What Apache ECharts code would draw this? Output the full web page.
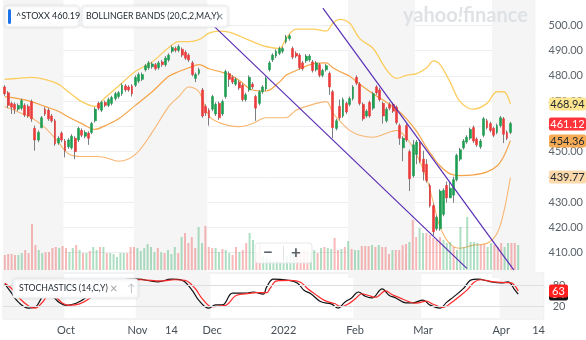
<!DOCTYPE html>
<html><head><meta charset="utf-8">
<script src="https://cdn.jsdelivr.net/npm/echarts@6/dist/echarts.min.js"></script>
<style>html,body{margin:0;padding:0;background:#fff}#c{width:586px;height:340px}</style>
</head><body><div id="c"></div>
<script>
// ---------- data ----------
const startDate = '2021-09-07', endDate = '2022-04-08';
const holidays = ['2021-12-24', '2021-12-31'];
const futureDays = ['2022-04-09','2022-04-10','2022-04-11','2022-04-12','2022-04-13','2022-04-14','2022-04-15'];
const tickLabels = {'2021-10-01':'Oct','2021-11-01':'Nov','2021-11-15':'14','2021-12-01':'Dec','2022-01-03':'2022','2022-02-01':'Feb','2022-03-01':'Mar','2022-04-01':'Apr','2022-04-14':'14'};
const shadedMonths = ['2021-09','2021-11','2022-02','2022-04'];

const open = [475.6,473.3,469.1,468.7,466.8,467.2,468.3,467.9,469.8,459.2,
454.6,459.5,466.8,466.4,464.1,462.2,453.4,457.3,454.2,451.9,
451.5,455.3,454.6,458.4,456.1,457.3,457.6,462.2,469.1,466.4,
469.5,468.3,469.1,471.0,471.8,472.9,476.0,475.6,476.0,476.3,
477.9,478.6,482.4,483.2,483.6,484.4,483.2,485.5,484.4,486.3,
489.7,490.8,490.1,490.5,489.3,488.2,485.1,479.0,480.9,474.4,
467.9,466.4,466.8,464.9,469.1,464.9,471.8,480.9,479.4,476.7,
477.5,476.3,470.6,474.4,476.7,471.8,469.1,473.7,474.8,482.4,
486.3,487.8,488.9,489.7,493.5,494.7,490.8,488.9,488.2,485.1,
485.9,486.3,485.5,482.4,484.4,480.2,482.4,480.9,473.7,459.2,
467.9,464.1,469.1,468.7,471.0,479.4,476.7,468.7,464.1,469.5,
467.2,475.6,474.4,469.1,462.2,468.7,468.7,467.6,460.3,451.5,
460.3,450.0,440.5,448.9,453.4,447.0,445.0,436.6,428.6,419.5,
419.5,425.2,436.6,431.7,432.8,438.9,447.0,451.5,453.8,455.3,
459.5,455.0,451.9,456.5,462.2,461.1,459.2,457.6,460.3,463.0,
457.6,457.6];
const close = [472.9,468.3,467.6,466.8,468.3,470.2,464.5,464.1,463.0,454.6,
457.6,463.4,464.9,463.0,462.2,453.1,455.3,454.6,450.4,454.6,
456.1,450.0,459.2,456.5,457.6,455.3,461.1,466.8,467.2,469.5,
468.3,470.6,471.4,472.9,473.3,476.3,474.4,474.4,472.9,479.4,
480.5,480.5,484.0,485.1,484.7,482.8,485.1,484.4,487.0,488.2,
491.2,490.1,491.6,488.2,487.0,486.3,480.5,480.5,482.4,464.1,
465.3,463.4,471.8,468.7,463.4,469.8,481.7,478.6,477.5,478.6,
475.2,470.6,472.5,479.4,475.6,467.2,473.7,475.6,479.0,485.1,
488.2,489.7,490.8,490.8,495.4,495.8,487.4,487.8,483.2,482.8,
487.8,487.8,482.1,485.1,480.2,482.1,484.0,475.6,459.5,462.2,
463.4,470.6,465.7,471.0,475.6,477.1,469.1,463.0,466.0,464.1,
472.9,473.3,470.6,464.1,466.8,467.2,466.0,461.5,455.3,455.3,
454.6,439.3,452.7,453.8,446.2,442.0,438.6,428.6,418.3,424.0,
434.4,434.7,431.7,435.5,438.9,448.5,450.8,454.2,455.7,458.8,
454.2,452.7,454.2,463.0,459.5,458.4,456.5,460.3,463.4,456.9,
455.3,461.12];
const low = [472.1,467.2,464.9,464.9,466.0,466.4,463.7,463.4,461.8,450.4,
453.8,459.2,464.1,462.2,461.5,452.3,452.7,453.8,447.7,451.1,
450.8,447.0,453.8,455.7,455.3,452.7,456.9,461.5,466.4,465.7,
467.6,467.6,468.3,470.2,471.0,472.1,473.7,473.7,471.8,475.6,
477.1,477.9,481.7,482.4,482.8,482.1,482.4,483.6,483.6,485.5,
488.9,489.3,489.3,487.4,486.3,485.5,479.8,477.5,480.2,463.4,
464.1,460.3,466.0,464.1,462.6,464.1,471.0,475.6,476.7,476.0,
474.4,469.8,469.8,473.7,474.8,462.2,468.3,472.9,474.0,481.7,
485.5,487.0,488.2,488.9,492.7,493.9,486.6,487.0,482.4,482.1,
485.1,485.5,481.3,481.7,479.4,479.4,481.7,472.5,455.3,458.4,
462.6,463.4,464.9,467.9,470.2,476.3,468.3,462.2,463.4,463.4,
466.4,472.5,469.8,461.1,461.5,466.4,465.3,460.7,452.7,446.2,
453.8,434.4,439.7,445.0,445.4,438.6,437.8,427.9,416.8,418.7,
418.7,424.4,429.8,431.7,429.8,438.2,446.2,450.8,453.1,454.6,
453.4,451.9,451.1,455.7,458.8,457.6,455.7,456.9,459.5,453.4,
454.6,456.9];
const high = [476.3,474.0,469.8,469.5,469.1,471.0,469.1,468.7,470.6,460.3,
458.4,464.1,467.6,467.2,464.9,463.0,456.1,458.0,455.0,455.3,
456.9,456.1,459.9,459.2,458.4,458.0,461.8,467.6,469.8,470.2,
470.2,471.4,472.1,473.7,474.0,477.1,476.7,476.3,476.7,480.2,
481.3,481.3,484.7,485.9,485.5,485.1,485.9,486.3,487.8,488.9,
492.0,491.6,492.4,491.2,490.1,488.9,485.9,481.3,483.2,475.2,
468.7,467.2,472.5,469.5,469.8,470.6,482.4,481.7,480.2,479.4,
478.2,477.1,473.3,480.2,477.5,472.5,474.4,476.3,479.8,485.9,
488.9,490.5,491.6,491.6,496.2,496.6,491.6,489.7,488.9,485.9,
488.6,488.6,486.3,485.9,485.1,482.8,484.7,481.7,474.4,463.0,
470.6,471.4,469.8,471.8,476.3,480.2,477.5,469.5,466.8,470.2,
473.7,476.3,475.2,469.8,467.6,469.5,469.5,468.3,461.1,456.1,
461.1,450.8,454.6,454.6,454.2,450.4,447.0,437.4,429.4,424.8,
435.1,435.5,438.2,438.2,440.1,449.2,451.5,455.0,456.5,459.5,
460.3,455.7,455.0,463.7,463.0,461.8,459.9,461.1,464.1,463.7,
458.4,461.8];
const volume = [15,16,16,15,15,17,20,17,46,25, 20,17,18,18,22,23,22,24,22,18,
22,25,20,17,17,19,23,20,23,23, 17,17,16,13,17,17,17,23,23,22,
19,22,26,23,18,22,18,17,20,16, 23,17,33,37,27,33,22,43,27,44,
23,22,22,18,21,20,17,15,23,18, 20,27,37,30,18,26,14,12,10,8,
9,8,10,14,16,18,20,18,20,19,
18,20,17,22,23,22,21,32,20,21, 23,29,21,20,20,24,24,24,25,23,
25,23,23,16,20,20,20,25,26,28, 50,33,42,37,37,35,32,30,33,30,
27,28,23,20,43,23,53,28,28,27, 25,25,23,27,25,23,27,23,27,27,
27,25];

// Bollinger bands (20,C,2) read at sampled trading-day positions
const bandIdx = [0,4,8,12,16,19,23,27,30,34,39,44,49,52,55,58,61,64,67,70,74,78,82,84,87,92,96,98,100,103,106,110,114,117,120,123,126,128,130,133,136,140,144,147,149,151];
const bandUpper = [478.6,479.0,479.4,478.6,476.7,473.7,469.8,467.9,471.4,476.0,481.7,485.5,491.2,493.5,493.5,494.3,496.9,497.7,497.3,495.8,493.5,491.6,490.8,494.7,498.5,498.5,497.7,500.8,502.3,500.8,494.7,490.8,482.4,479.0,480.2,480.9,483.2,485.9,484.4,477.5,469.8,466.8,469.1,473.7,473.7,468.94];
const bandMid = [471.8,471.0,469.8,467.9,466.0,463.7,461.1,458.8,460.3,463.0,468.3,473.7,479.8,481.7,483.2,484.4,482.8,481.7,480.5,478.2,474.4,474.0,477.5,480.2,482.1,484.7,485.1,483.2,481.7,479.8,476.7,472.9,469.5,466.8,463.0,458.0,451.5,447.7,444.3,441.2,440.5,440.8,442.0,444.3,448.1,454.36];
const bandLower = [467.9,465.7,463.4,459.5,453.8,449.2,448.1,448.1,447.7,446.2,448.9,457.6,467.9,471.8,475.6,473.7,464.1,461.5,460.3,459.9,461.1,463.4,463.4,463.4,466.4,468.7,469.8,465.3,462.2,458.4,456.5,455.7,457.3,458.4,455.3,448.9,439.3,429.8,420.2,413.4,411.8,413.0,413.7,417.6,426.0,439.77];

// Stochastics (14,C,Y)
const stochKIdx = [0,2,4,7,9,11,12,14,16,18,21,24,27,30,34,39,45,49,52,55,57,60,62,64,67,71,73,76,77,79,83,86,88,90,93,96,98,100,102,104,106,108,111,113,115,118,120,123,125,128,130,132,135,137,139,143,146,148,150,151];
const stochK = [83,57,31,14,17,46,55,48,30,22,28,45,75,90,95,97,89,97,94,66,37,14,23,23,57,57,60,54,74,97,94,86,65,55,32,26,14,31,43,60,48,43,69,51,43,29,29,37,23,14,31,46,71,94,97,89,86,89,66,54];
const stochDIdx = [0,2,4,7,9,11,13,15,17,19,22,25,28,31,35,40,46,50,53,56,58,61,63,65,68,72,74,77,78,80,84,87,89,91,94,97,99,101,103,105,107,109,112,114,116,119,121,124,126,129,131,133,136,138,140,144,147,149,150,151];
const stochD = [85,70,45,20,14,30,50,45,28,22,26,42,70,88,94,95,92,95,93,70,42,18,20,22,50,56,58,58,70,92,93,88,70,56,36,27,18,26,40,55,50,45,63,52,44,32,28,34,25,16,27,42,66,88,95,89,87,86,78,63];
const stochLevels = [80, 20];

// drawn trend lines: [trading-day index, price]
const trendA = [[57, 506.6], [138, 403.8]];
const trendB = [[95, 506.8], [152, 403.2]];

const symbolName = '^STOXX', symbolPrice = '460.19';

// ---------- build ----------
function buildDates() {
  const out = []; let d = new Date(startDate + 'T00:00:00Z'); const end = new Date(endDate + 'T00:00:00Z');
  while (d <= end) { const wd = d.getUTCDay(); const s = d.toISOString().slice(0, 10);
    if (wd !== 0 && wd !== 6 && holidays.indexOf(s) < 0) out.push(s); d = new Date(d.getTime() + 864e5); }
  return out;
}
const tradeDates = buildDates();
const cats = tradeDates.concat(futureDays);
const N = cats.length;
const last = close.length - 1;

const FONT = 'Lato, "Noto Sans", sans-serif';
const GREEN = '#1e9e52', RED = '#eb3b3b';
const bodyData = open.map((o, i) => [o, close[i], Math.min(o, close[i]), Math.max(o, close[i])]);
const wickData = open.map((o, i) => [close[i], close[i], low[i], high[i]]);
const volData = volume.map((v, i) => ({ value: v, itemStyle: { color: close[i] >= open[i] ? 'rgba(46,170,95,0.38)' : 'rgba(236,70,70,0.38)' } }));
const pairs = (idx, vals) => idx.map((x, i) => [x, vals[i]]);

function monthAreas() {
  return shadedMonths.map(m => {
    let a = -1, b = -1;
    cats.forEach((d, i) => { if (d.slice(0, 7) === m) { if (a < 0) a = i; b = i; } });
    const lo = a === 0 ? -0.5 : a - 0.5, hi = b === N - 1 ? N - 0.5 : b + 0.5;
    return [{ xAxis: lo }, { xAxis: hi }];
  });
}

const L = 3.1, W = 540.6;
const chart = echarts.init(document.getElementById('c'), null, { renderer: 'canvas' });

chart.setOption({
  animation: false,
  textStyle: { fontFamily: FONT },
  grid: [
    { left: L, width: W, top: -10.2, height: 288.2 },
    { left: L, width: W, top: 210, height: 60 },
    { left: L, width: W, top: 273, height: 46, show: true, borderColor: '#e3e5e8', borderWidth: 1, backgroundColor: 'transparent' }
  ],
  xAxis: [
    { type: 'category', gridIndex: 0, data: cats, show: false, boundaryGap: true },
    { type: 'value', gridIndex: 0, min: -0.5, max: N - 0.5, show: false },
    { type: 'category', gridIndex: 1, data: cats, show: false },
    { type: 'category', gridIndex: 2, data: cats, axisLine: { show: false }, axisTick: { show: false },
      axisLabel: { interval: (i, v) => !!tickLabels[v], formatter: v => tickLabels[v] || '', color: '#464e56', fontSize: 11, margin: 6, fontFamily: FONT } },
    { type: 'value', gridIndex: 2, min: -0.5, max: N - 0.5, show: false }
  ],
  yAxis: [
    { type: 'value', gridIndex: 0, position: 'right', min: 400, max: 510, interval: 10,
      axisLine: { show: false }, axisTick: { show: false },
      axisLabel: { formatter: v => (v < 405 || v > 505) ? '' : v.toFixed(2), color: '#5b636a', fontSize: 11, margin: 13, fontFamily: FONT },
      splitLine: { lineStyle: { color: ['transparent','#eceef0','#eceef0','#eceef0','#eceef0','#eceef0','#eceef0','#eceef0','#eceef0','#eceef0','#eceef0','transparent'], width: 1 } } },
    { type: 'value', gridIndex: 1, min: 0, max: 60, show: false },
    { type: 'value', gridIndex: 2, min: -17.1, max: 114.3, show: false }
  ],
  series: [
    { type: 'line', xAxisIndex: 1, yAxisIndex: 0, data: pairs(bandIdx, bandLower), stack: 'bb', smooth: 0.35, symbol: 'none',
      lineStyle: { color: '#f8b671', width: 1.1 }, z: 1,
      markArea: { silent: true, itemStyle: { color: '#f5f5f6' }, data: monthAreas() } },
    { type: 'line', xAxisIndex: 1, yAxisIndex: 0, data: bandIdx.map((x, i) => [x, +(bandUpper[i] - bandLower[i]).toFixed(2)]), stack: 'bb', smooth: 0.35, symbol: 'none',
      lineStyle: { color: 'rgba(0,0,0,0)', width: 0 }, areaStyle: { color: 'rgba(251,170,90,0.22)' }, z: 1 },
    { type: 'line', xAxisIndex: 1, yAxisIndex: 0, data: pairs(bandIdx, bandUpper), smooth: 0.35, symbol: 'none',
      lineStyle: { color: '#fbcd5e', width: 1.3 }, z: 2 },
    { type: 'line', xAxisIndex: 1, yAxisIndex: 0, data: pairs(bandIdx, bandMid), smooth: 0.35, symbol: 'none',
      lineStyle: { color: '#f5a346', width: 1.2 }, z: 2 },
    { type: 'bar', xAxisIndex: 2, yAxisIndex: 1, data: volData, barWidth: 2, z: 2 },
    { type: 'candlestick', xAxisIndex: 0, yAxisIndex: 0, data: wickData, barWidth: 1, z: 3,
      itemStyle: { color: '#7b7f83', color0: '#7b7f83', borderColor: '#7b7f83', borderColor0: '#7b7f83', borderWidth: 1 } },
    { type: 'candlestick', xAxisIndex: 0, yAxisIndex: 0, data: bodyData, barWidth: 2.4, z: 4,
      itemStyle: { color: GREEN, color0: RED, borderColor: GREEN, borderColor0: RED, borderWidth: 0.6 } },
    { type: 'line', xAxisIndex: 1, yAxisIndex: 0, data: trendA, symbol: 'none', lineStyle: { color: '#5a2fb4', width: 1.2 }, z: 5 },
    { type: 'line', xAxisIndex: 1, yAxisIndex: 0, data: trendB, symbol: 'none', lineStyle: { color: '#5a2fb4', width: 1.2 }, z: 5 },
    { type: 'line', xAxisIndex: 4, yAxisIndex: 2, data: [], symbol: 'none', z: 1,
      markArea: { silent: true, itemStyle: { color: '#f5f5f6' }, data: monthAreas() },
      markLine: { silent: true, symbol: 'none', lineStyle: { color: '#dcdfe2', width: 1, type: 'solid' },
        label: { show: true, position: 'end', distance: 9, color: '#5b636a', fontSize: 11, fontFamily: FONT, formatter: p => String(p.value) },
        data: stochLevels.map(v => ({ yAxis: v })) } },
    { type: 'line', xAxisIndex: 4, yAxisIndex: 2, data: pairs(stochKIdx, stochK), smooth: 0.4, symbol: 'none', lineStyle: { color: '#111', width: 1.2 }, z: 3 },
    { type: 'line', xAxisIndex: 4, yAxisIndex: 2, data: pairs(stochDIdx, stochD), smooth: 0.4, symbol: 'none', lineStyle: { color: '#ff2a2a', width: 1.2 }, z: 4 }
  ]
});

// ---------- overlays: tags positioned through the axes' own scales ----------
const tag = (axis, value, text, bg, fg, x, w, zb) => {
  const y = chart.convertToPixel({ yAxisIndex: axis }, value);
  return { type: 'group', x: x, y: Math.round(y) - 6.5, zlevel: 1, children: [
    { type: 'rect', zlevel: 1, z: zb, shape: { x: 0, y: 0, width: w, height: 13, r: 2 }, style: { fill: bg } },
    { type: 'text', zlevel: 1, z: zb + 1, x: w / 2, y: 7, style: { text: text, fill: fg, fontSize: 11, fontFamily: FONT, align: 'center', verticalAlign: 'middle' } } ] };
};
const uL = bandUpper[bandUpper.length - 1], mL = bandMid[bandMid.length - 1], lL = bandLower[bandLower.length - 1];
const kL = stochK[stochK.length - 1], dL = stochD[stochD.length - 1];
const box = (x, y, w, h) => ({ type: 'rect', zlevel: 1, shape: { x: x, y: y, width: w, height: h, r: 3 }, style: { fill: '#ffffff', stroke: '#eceef0', lineWidth: 1, shadowBlur: 3, shadowColor: 'rgba(0,0,0,0.12)' } });
const txt = (x, y, s, o) => Object.assign({ type: 'text', zlevel: 1, z: 5, x: x, y: y, style: Object.assign({ text: s, fill: '#232a31', fontSize: 8.7, fontFamily: FONT, verticalAlign: 'middle' }, o || {}) });

chart.setOption({ graphic: [
  { type: 'text', zlevel: 1, x: 403, y: 6, style: { text: '{a|yahoo}{b|!}{a|finance}', rich: {
      a: { fontSize: 20, fontWeight: 'bold', fill: '#dfe2e5', fontFamily: FONT },
      b: { fontSize: 20, fontWeight: 'bold', fontStyle: 'italic', fill: '#dfe2e5', fontFamily: FONT } } } },
  box(5, 6, 74, 21),
  { type: 'rect', zlevel: 1, z: 5, shape: { x: 8, y: 9, width: 3, height: 15, r: 1.5 }, style: { fill: '#1a73e8' } },
  txt(16, 16.5, symbolName + ' ' + symbolPrice, { fontSize: 9 }),
  box(82, 6, 146, 21),
  txt(86, 16.5, 'BOLLINGER BANDS (20,C,2,MA,Y)'),
  txt(216, 16.5, '×', { fill: '#828c93', fontSize: 13 }),
  box(13, 279, 125, 19),
  txt(19, 288.5, 'STOCHASTICS (14,C,Y)'),
  txt(110, 288.5, '×', { fill: '#9aa1a7', fontSize: 13 }),
  txt(127, 288.5, '↑', { fill: '#b8bdc2', fontSize: 11 }),
  { type: 'rect', zlevel: 1, shape: { x: 255, y: 243, width: 57, height: 20, r: 3 }, style: { fill: 'rgba(255,255,255,0.85)', stroke: '#e6e8ea', lineWidth: 1 } },
  { type: 'line', zlevel: 1, z: 5, shape: { x1: 283.5, y1: 246, x2: 283.5, y2: 260 }, style: { stroke: '#e0e3e6', lineWidth: 1 } },
  txt(268, 253, '−', { fill: '#5b636a', fontSize: 17, fontWeight: 'bold', align: 'center' }),
  txt(296, 253, '+', { fill: '#5b636a', fontSize: 17, fontWeight: 'bold', align: 'center' }),
  tag(0, uL, uL.toFixed(2), '#fde68f', '#232a31', 549, 37, 10),
  tag(0, close[last], close[last].toFixed(2), '#ff333a', '#ffffff', 549, 37, 12),
  tag(0, mL, mL.toFixed(2), '#f8ab55', '#232a31', 549, 37, 14),
  tag(0, lL, lL.toFixed(2), '#fcd9ab', '#232a31', 549, 37, 16),
  tag(2, kL, String(kL), '#111111', '#ffffff', 549, 19, 10),
  tag(2, dL, String(dL), '#ff1f1f', '#ffffff', 549, 19, 20)
] });
</script></body></html>
